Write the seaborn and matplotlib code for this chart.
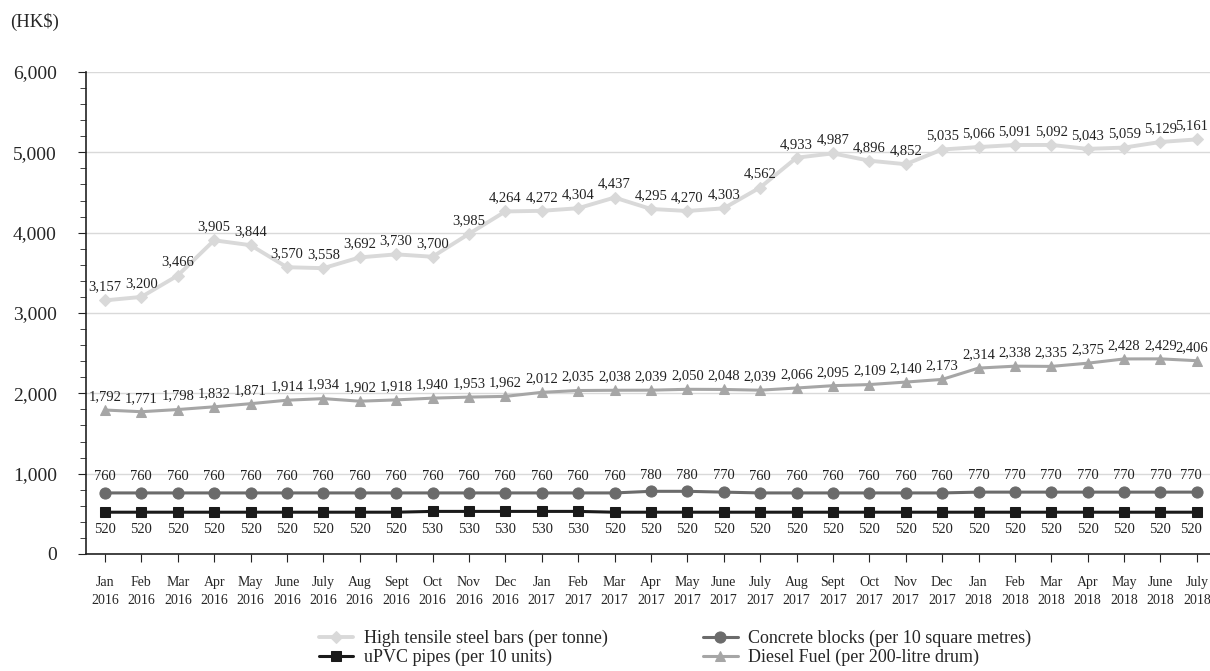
import pandas as pd
import numpy as np
import seaborn as sns
import matplotlib.pyplot as plt
from matplotlib.ticker import MultipleLocator, FuncFormatter

months = ["Jan\n2016", "Feb\n2016", "Mar\n2016", "Apr\n2016", "May\n2016", "June\n2016", "July\n2016",
          "Aug\n2016", "Sept\n2016", "Oct\n2016", "Nov\n2016", "Dec\n2016",
          "Jan\n2017", "Feb\n2017", "Mar\n2017", "Apr\n2017", "May\n2017", "June\n2017", "July\n2017",
          "Aug\n2017", "Sept\n2017", "Oct\n2017", "Nov\n2017", "Dec\n2017",
          "Jan\n2018", "Feb\n2018", "Mar\n2018", "Apr\n2018", "May\n2018", "June\n2018", "July\n2018"]

steel = [3157, 3200, 3466, 3905, 3844, 3570, 3558, 3692, 3730, 3700, 3985, 4264,
         4272, 4304, 4437, 4295, 4270, 4303, 4562, 4933, 4987, 4896, 4852, 5035,
         5066, 5091, 5092, 5043, 5059, 5129, 5161]
diesel = [1792, 1771, 1798, 1832, 1871, 1914, 1934, 1902, 1918, 1940, 1953, 1962,
          2012, 2035, 2038, 2039, 2050, 2048, 2039, 2066, 2095, 2109, 2140, 2173,
          2314, 2338, 2335, 2375, 2428, 2429, 2406]
concrete = [760, 760, 760, 760, 760, 760, 760, 760, 760, 760, 760, 760,
            760, 760, 760, 780, 780, 770, 760, 760, 760, 760, 760, 760,
            770, 770, 770, 770, 770, 770, 770]
upvc = [520, 520, 520, 520, 520, 520, 520, 520, 520, 530, 530, 530,
        530, 530, 520, 520, 520, 520, 520, 520, 520, 520, 520, 520,
        520, 520, 520, 520, 520, 520, 520]

sns.set_style("white")
plt.rcParams["font.family"] = ["Liberation Serif", "DejaVu Serif"]

fig = plt.figure(figsize=(12.1, 6.71), dpi=100)
ax = fig.add_axes([0.0711, 0.1744, 0.9289, 0.7183])

x = np.arange(len(months))
# label, values, colour, marker, markersize, linewidth, label offset (pt)
series = [
    ("High tensile steel bars (per tonne)", steel, "#d9d9d9", "D", 6, 2.8, 5),
    ("uPVC pipes (per 10 units)", upvc, "#1a1a1a", "s", 7, 2.2, -8),
    ("Concrete blocks (per 10 square metres)", concrete, "#6b6b6b", "o", 8, 2.2, 7),
    ("Diesel Fuel (per 200-litre drum)", diesel, "#a6a6a6", "^", 7.5, 2.2, 5),
]

for name, vals, col, mk, ms, lw, off in series:
    sns.lineplot(x=x, y=vals, ax=ax, color=col, marker=mk, markersize=ms,
                 markeredgecolor=col, linewidth=lw, label=name)
    for xi, v in zip(x, vals):
        dx = -4 if xi == x[-1] else 0
        ax.annotate(f"{v:,}", (xi, v), xytext=(dx, off), textcoords="offset points",
                    ha="center", va="bottom" if off > 0 else "top",
                    fontsize=10.5, color="#222222")

ax.set_xlim(-0.52, 30.36)
ax.set_ylim(0, 6000)
ax.yaxis.set_major_locator(MultipleLocator(1000))
ax.yaxis.set_minor_locator(MultipleLocator(200))
ax.yaxis.set_major_formatter(FuncFormatter(lambda v, p: f"{int(v):,}"))
ax.set_xticks(x)
ax.set_xticklabels(months, fontsize=10, linespacing=1.45)
ax.tick_params(axis="y", which="major", labelsize=14, length=6, pad=15,
               direction="out", left=True, color="#222222")
ax.tick_params(axis="y", which="minor", length=4, direction="out", left=True, color="#222222")
ax.tick_params(axis="x", length=6, pad=10, direction="out", bottom=True, color="#222222")
ax.grid(axis="y", which="major", color="#d9d9d9", linewidth=1)
ax.set_axisbelow(True)
for s in ["top", "right"]:
    ax.spines[s].set_visible(False)
for s in ["left", "bottom"]:
    ax.spines[s].set_color("#222222")
    ax.spines[s].set_linewidth(1.2)

fig.text(0.008, 0.968, "(HK$)", fontsize=13.5, ha="left", va="center")

ax.legend(ncol=2, loc="upper center", bbox_to_anchor=(0.524, -0.124),
          frameon=False, fontsize=13, handlelength=1.9, columnspacing=5.3,
          labelspacing=0.1, handletextpad=0.6)

fig.savefig("out.png", dpi=100)
